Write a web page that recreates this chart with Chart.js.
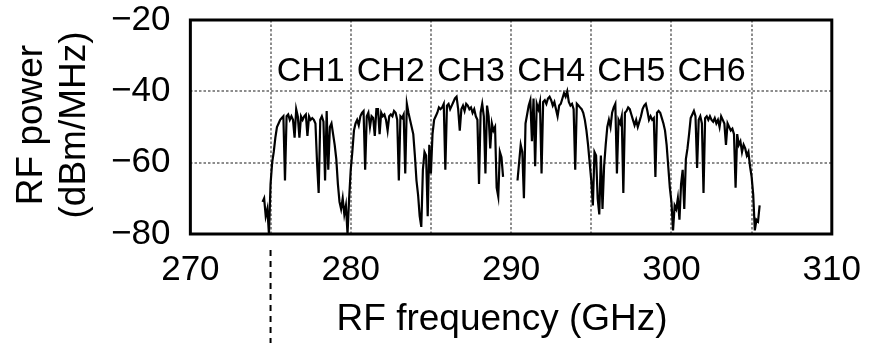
<!DOCTYPE html>
<html>
<head>
<meta charset="utf-8">
<script src="https://cdn.jsdelivr.net/npm/chart.js@4.4.0/dist/chart.umd.min.js"></script>
<style>
    html, body { margin: 0; padding: 0; background: #fff; }
</style>
</head>
<body>
<canvas id="spectrumChart" width="876" height="343"></canvas>
<script>
// RF spectrum of six channels (0.1 GHz grid)
const FREQ_STEP = 0.1;

const ch1Start = 274.5;
const ch1Power = [-71, -70, -75, -73, -80, -66, -60, -57, -53, -50, -49, -48, -47.5, -47, -65, -47, -46.5, -48, -47, -48,
    -53, -45, -47, -53, -47, -48, -47, -46.5, -52.5, -47, -48, -47.5, -48, -49, -60, -68.5, -48, -47, -48.5, -65,
    -45.5, -62, -50, -49, -52, -55, -59, -66, -71, -73, -70, -74.5, -72, -80, -70, -62];

const ch2Start = 280.1;
const ch2Power = [-57, -51, -49, -48, -49.5, -47, -46, -45.5, -62, -47, -46, -50, -47, -47.5, -52.5, -45, -45, -52, -46, -47,
    -46.5, -48, -51, -47, -46.5, -47, -45.5, -46, -48, -65, -47, -47.5, -46.5, -63, -43.5, -46, -48, -50, -52, -58,
    -65, -69, -75, -78, -62, -57, -58, -75, -55, -63];

const ch3Start = 285.1;
const ch3Power = [-52, -48, -47, -46, -44.5, -45, -44.5, -43.5, -62, -44, -43.5, -45, -44, -43, -42, -41.5, -45, -51, -45, -44,
    -45.5, -43.5, -44, -45, -44.5, -46, -45, -47, -48, -66, -46, -43.5, -47, -63, -44, -47, -56, -49, -51, -50,
    -67, -69.5, -57, -58.5, -64];

const ch4Start = 290.4;
const ch4Power = [-65, -60, -55, -57, -70, -49, -46.5, -44, -42.5, -54, -42, -61, -43.5, -45, -43, -63, -43, -42.5, -43.5, -42,
    -41.5, -42.5, -44, -43, -45, -47, -44, -43.5, -42, -40.5, -41.5, -40, -43, -44, -43.5, -45, -62, -43.5, -44, -44.5,
    -45, -46, -48, -51, -55, -60, -65];

const ch5Start = 295.1;
const ch5Power = [-72, -57, -58, -70, -74.5, -58, -73, -61, -55, -50, -48, -50, -46, -44.5, -43.5, -63, -48, -49, -47, -68.5,
    -46, -45.5, -44.5, -45, -46.5, -48, -49.5, -48, -50, -48.5, -47, -45, -44, -43.5, -45.5, -48, -47, -48, -47.5, -64,
    -46, -45.5, -46, -47.5, -49, -51, -55, -61, -67, -71];

const ch6Start = 300.1;
const ch6Power = [-79, -72, -73, -70, -76, -66, -62, -73, -59, -56, -52, -47.5, -46.5, -45.5, -47, -61.5, -48, -47, -49, -68.5,
    -47.5, -47, -48, -47, -48, -48.5, -47.5, -49, -48, -50, -47, -48, -49, -55, -49, -50, -51, -50.5, -52, -67,
    -52, -55, -54, -57, -55, -56, -58, -57, -61, -64, -69, -79, -76, -76.5, -72];

const channelLabels = ['CH1', 'CH2', 'CH3', 'CH4', 'CH5', 'CH6'];
const channelCenters = [277.5, 282.5, 287.5, 292.5, 297.5, 302.5];
const labelLevel = -34.5;
const loFreq = 275;

const xTicks = [270, 280, 290, 300, 310];
const yTicks = [-20, -40, -60, -80];
const xTitle = 'RF frequency (GHz)';
const yTitle = ['RF power', '(dBm/MHz)'];

const FONT = 'Arial, "Liberation Sans", sans-serif';

// turn a start frequency + list of powers into {x, y} points
function toPoints(start, powers) {
    return powers.map((p, i) => ({ x: Math.round((start + i * FREQ_STEP) * 10) / 10, y: p }));
}

// measurement was taken in two sweeps, there is a gap near 290 GHz
const sweepA = [].concat(toPoints(ch1Start, ch1Power), toPoints(ch2Start, ch2Power), toPoints(ch3Start, ch3Power));
const sweepB = [].concat(toPoints(ch4Start, ch4Power), toPoints(ch5Start, ch5Power), toPoints(ch6Start, ch6Power));

// Frame, axis titles, channel names and the dashed LO marker below the axis
const framePlugin = {
    id: 'frame',
    afterDraw(chart) {
        const ctx = chart.ctx;
        const a = chart.chartArea;
        const x = chart.scales.x;
        const y = chart.scales.y;
        ctx.save();

        ctx.fillStyle = '#000';
        ctx.font = '34px ' + FONT;
        ctx.textAlign = 'center';
        ctx.textBaseline = 'middle';
        channelLabels.forEach((label, i) => {
            ctx.fillText(label, x.getPixelForValue(channelCenters[i]), y.getPixelForValue(labelLevel));
        });

        // axis titles
        ctx.font = '37px ' + FONT;
        ctx.fillText(xTitle, (a.left + a.right) / 2 - 9, 320);
        ctx.save();
        ctx.translate(32, (a.top + a.bottom) / 2 - 2);
        ctx.rotate(-Math.PI / 2);
        ctx.fillText(yTitle[0], 0, 0);
        ctx.fillText(yTitle[1], 0, 43);
        ctx.restore();

        ctx.strokeStyle = '#000';
        ctx.lineWidth = 3;
        ctx.strokeRect(a.left, a.top, a.right - a.left, a.bottom - a.top);

        const lx = x.getPixelForValue(loFreq);
        ctx.lineWidth = 2;
        ctx.setLineDash([6, 5]);
        ctx.beginPath();
        ctx.moveTo(lx, a.bottom + 16);
        ctx.lineTo(lx, chart.height);
        ctx.stroke();

        ctx.restore();
    }
};

const traceStyle = {
    borderColor: '#000',
    borderWidth: 2.2,
    pointRadius: 0,
    tension: 0,
    fill: false
};

new Chart(document.getElementById('spectrumChart'), {
    type: 'line',
    data: {
        datasets: [
            Object.assign({ label: 'sweep A', data: sweepA }, traceStyle),
            Object.assign({ label: 'sweep B', data: sweepB }, traceStyle)
        ]
    },
    options: {
        responsive: false,
        animation: false,
        events: [],
        layout: { padding: { left: 91, right: 44, top: 20, bottom: 37 } },
        plugins: {
            legend: { display: false },
            tooltip: { enabled: false }
        },
        scales: {
            x: {
                type: 'linear',
                min: 270,
                max: 310,
                border: { display: false, dash: [2.5, 2] },
                grid: { color: '#8c8c8c', lineWidth: 2, drawTicks: false },
                ticks: {
                    stepSize: 5,
                    autoSkip: false,
                    maxRotation: 0,
                    padding: 15,
                    color: '#000',
                    font: { family: FONT, size: 35 },
                    callback: v => xTicks.includes(v) ? String(v) : ''
                }
            },
            y: {
                min: -80,
                max: -20,
                border: { display: false, dash: [2.5, 2] },
                grid: { color: '#8c8c8c', lineWidth: 2, drawTicks: false },
                ticks: {
                    stepSize: 20,
                    padding: 20,
                    color: '#000',
                    font: { family: FONT, size: 35 },
                    callback: v => yTicks.includes(v) ? String(v).replace('-', '\u2212') : ''
                },
                // labels may overhang the frame, layout padding handles the top
                afterFit: scale => {
                    scale.paddingTop = 0;
                    scale.paddingBottom = 0;
                }
            }
        }
    },
    plugins: [framePlugin]
});
</script>
</body>
</html>
